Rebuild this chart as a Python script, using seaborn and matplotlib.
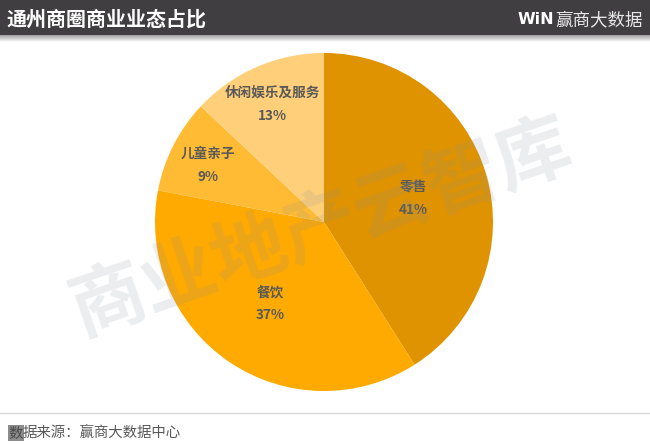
"""Recreate the Tongzhou retail-mix pie chart."""

import matplotlib.pyplot as plt
import numpy as np
import seaborn as sns
from matplotlib.patches import Rectangle

TITLE = "通州商圈商业业态占比"
BRAND = "赢商大数据"
SOURCE = "据来源：赢商大数据中心"
WATERMARK = "商业地产云智库"

categories = ["零售", "餐饮", "儿童亲子", "休闲娱乐及服务"]
shares = [41, 37, 9, 13]
colors = ["#DF9300", "#FFAA00", "#FFBB33", "#FFD079"]
label_radius = [0.55, 0.57, 0.77, 0.77]

WIDTH, HEIGHT = 650, 445

sns.set_theme(style="white")
plt.rcParams["font.family"] = ["Noto Sans CJK SC", "DejaVu Sans"]

fig = plt.figure(figsize=(WIDTH / 100, HEIGHT / 100), dpi=100, facecolor="white")

# page layer in pixel coordinates, y pointing down
page = fig.add_axes([0, 0, 1, 1], zorder=0)
page.set_xlim(0, WIDTH)
page.set_ylim(HEIGHT, 0)
page.axis("off")

# header band with a soft shadow under it
page.add_patch(Rectangle((0, 0), WIDTH, 35, color="#403E40", lw=0))
shadow = np.linspace(0.62, 1.0, 32).reshape(-1, 1)
page.imshow(shadow, extent=(0, WIDTH, 42, 35), cmap="gray", vmin=0, vmax=1, aspect="auto")
page.set_xlim(0, WIDTH)
page.set_ylim(HEIGHT, 0)

page.text(6, 19, TITLE, color="white", fontsize=14.4, fontweight="bold", va="center")
page.text(518, 20, "WiN", color="white", fontsize=11.5, fontweight="bold", va="center",
          family="DejaVu Sans")
page.text(643, 20, BRAND, color="#E8E8E8", fontsize=12.6, ha="right", va="center")

# footer rule and source line
page.plot([0, WIDTH], [413, 413], color="#D9D9D9", lw=1)
page.add_patch(Rectangle((8, 425), 16, 16, color="#8C8C8C", lw=0))
page.text(8, 433.5, "数", color="#4A4A4A", fontsize=10.4, va="center")
page.text(23, 433.5, SOURCE, color="#595959", fontsize=10.4, va="center")

# pie, clockwise from twelve o'clock
ax = fig.add_axes([155 / WIDTH, 1 - 391 / HEIGHT, 338 / WIDTH, 338 / HEIGHT], zorder=1)
wedges, _ = ax.pie(shares, colors=colors, startangle=90, counterclock=False, radius=1.0,
                   wedgeprops={"linewidth": 0})
ax.set_xlim(-1, 1)
ax.set_ylim(-1, 1)

for wedge, name, share, r in zip(wedges, categories, shares, label_radius):
    angle = np.deg2rad((wedge.theta1 + wedge.theta2) / 2)
    x, y = r * np.cos(angle), r * np.sin(angle)
    ax.annotate(f"{name}\n{share}%", (x, y), xytext=(0, -1.5), textcoords="offset points",
                ha="center", va="center", color="#595959", fontsize=9.8, fontweight="bold",
                linespacing=1.85)

# diagonal watermark sits over everything in the plot area
fig.text(322 / WIDTH, 1 - 228 / HEIGHT, WATERMARK, color="#8A8F9C", alpha=0.16, fontsize=54,
         fontweight="bold", rotation=19, ha="center", va="center", zorder=5)

fig.savefig("out.png", dpi=100)
plt.close(fig)
